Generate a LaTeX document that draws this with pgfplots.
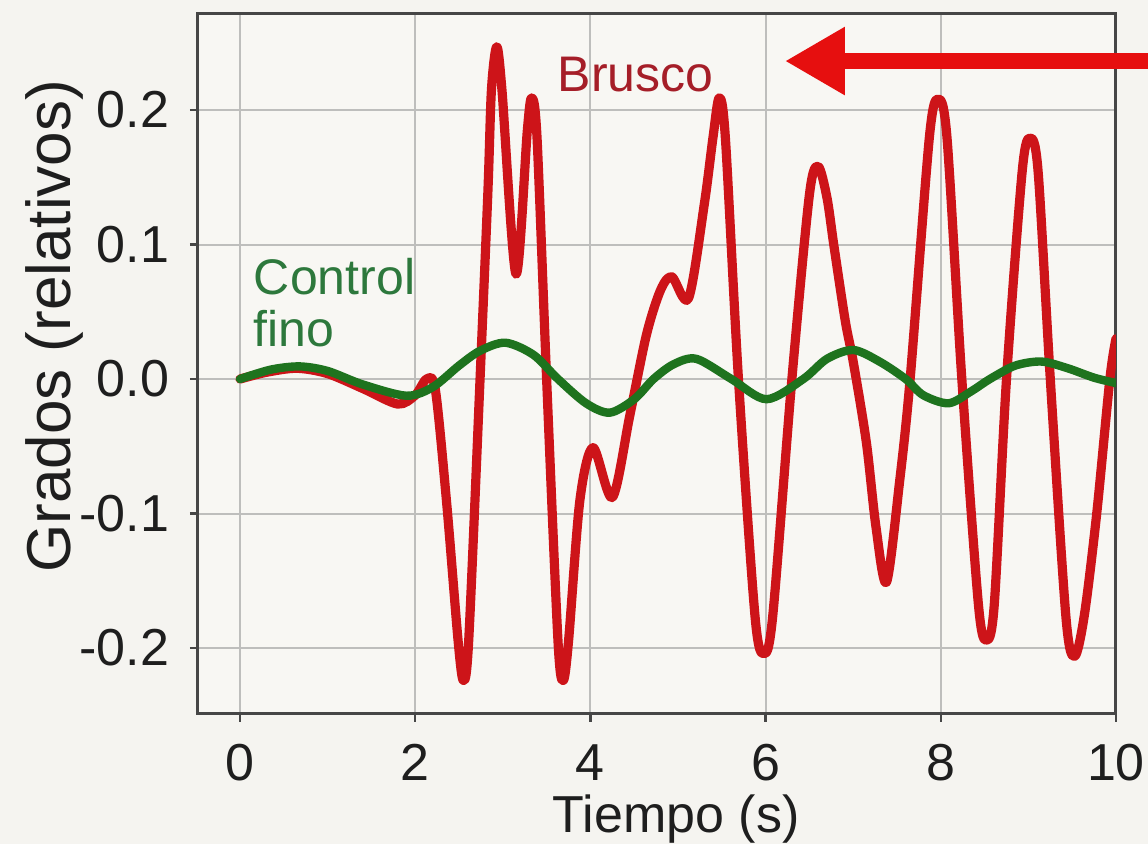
\documentclass[border=0pt]{standalone}
\usepackage{pgfplots}
\pgfplotsset{compat=1.18}
\usepackage{fontspec}
\setmainfont{Liberation Sans}
\usetikzlibrary{arrows.meta}

\definecolor{pagebg}{RGB}{245,244,240}
\definecolor{plotbg}{RGB}{248,247,243}
\definecolor{gridc}{RGB}{190,190,188}
\definecolor{framec}{RGB}{70,70,70}
\definecolor{tickc}{RGB}{30,30,30}
\definecolor{brusco}{RGB}{205,20,25}
\definecolor{fino}{RGB}{30,115,30}
\definecolor{bruscotxt}{RGB}{165,30,40}
\definecolor{finotxt}{RGB}{45,120,60}
\definecolor{arrowc}{RGB}{230,15,15}

% respuesta brusca
\pgfplotstableread{
t y
0 0
0.3 0.005
0.65 0.008
1.0 0.004
1.4 -0.007
1.8 -0.0186
2.0 -0.012
2.13 0.0
2.23 -0.008
2.36 -0.093
2.49 -0.195
2.55 -0.224
2.61 -0.195
2.74 0.0
2.83 0.14
2.87 0.215
2.93 0.247
2.99 0.215
3.15 0.078
3.28 0.185
3.33 0.209
3.39 0.18
3.50 0.0
3.63 -0.195
3.69 -0.224
3.75 -0.195
3.88 -0.09
4.03 -0.051
4.25 -0.088
4.45 -0.027
4.64 0.033
4.8 0.066
4.93 0.076
5.12 0.060
5.3 0.13
5.40 0.18
5.47 0.209
5.54 0.18
5.69 0.0
5.88 -0.177
5.98 -0.204
6.08 -0.177
6.30 0.0
6.50 0.137
6.60 0.158
6.70 0.135
6.78 0.099
6.91 0.043
7.0 0.013
7.15 -0.047
7.26 -0.11
7.38 -0.151
7.53 -0.076
7.65 0.0
7.87 0.18
7.97 0.208
8.07 0.18
8.24 0.0
8.43 -0.168
8.52 -0.194
8.61 -0.168
8.75 0.0
8.93 0.155
9.02 0.179
9.11 0.155
9.25 0.0
9.43 -0.178
9.53 -0.206
9.64 -0.175
9.78 -0.1
9.93 0.0
10.0 0.03
}\brusco

% control fino
\pgfplotstableread{
t y
0 0
0.35 0.007
0.68 0.0094
1.0 0.006
1.4 -0.004
1.9 -0.0124
2.2 -0.006
2.5 0.01
2.74 0.021
3.03 0.027
3.35 0.018
3.63 0.0
3.95 -0.018
4.22 -0.025
4.5 -0.015
4.72 0.0
4.95 0.011
5.21 0.015
5.61 0.0
6.01 -0.015
6.43 0.0
6.7 0.015
7.0 0.0216
7.3 0.013
7.6 0.0
7.8 -0.012
8.09 -0.018
8.35 -0.009
8.56 0.0
8.85 0.01
9.15 0.013
9.45 0.008
9.75 0.001
10 -0.003
}\fino

\begin{document}
\begin{tikzpicture}
\useasboundingbox (-49.5pt,-32.5pt) rectangle (237.5pt,178.5pt);
\fill[pagebg] (-49.5pt,-32.5pt) rectangle (237.5pt,178.5pt);
\clip (-49.5pt,-32.5pt) rectangle (237.5pt,178.5pt);
\begin{axis}[
  at={(0,0)}, anchor=south west,
  scale only axis, width=229.5pt, height=175pt,
  xmin=-0.48, xmax=10, ymin=-0.249, ymax=0.2714,
  axis background/.style={fill=plotbg},
  axis line style={framec, line width=0.75pt},
  grid=major, major grid style={gridc, line width=0.5pt},
  tick align=outside, tick pos=left,
  major tick length=2pt, tick style={framec, line width=0.6pt},
  xtick={0,2,4,6,8,10}, xticklabels={0,2,4,6,8,10},
  ytick={-0.2,-0.1,0,0.1,0.2}, yticklabels={-0.2,-0.1,0.0,0.1,0.2},
  ticklabel style={font=\fontsize{13}{15}\selectfont, text=tickc},
  xticklabel style={anchor=base, yshift=-14.75pt},
  yticklabel style={anchor=east, inner sep=0pt, xshift=-5pt},
  xlabel={Tiempo (s)},
  ylabel={Grados (relativos)},
  xlabel style={font=\fontsize{13}{15}\selectfont, text=tickc, at={(axis description cs:0.521,-0.169)}, anchor=base},
  ylabel style={font=\fontsize{15.5}{18}\selectfont, text=tickc, at={(axis description cs:-0.156,0.554)}, anchor=center},
]
\addplot[brusco, line width=2.3pt, line join=round, line cap=round, smooth, tension=0.5] table[x=t, y=y] {\brusco};
\addplot[fino, line width=2.1pt, line join=round, line cap=round, smooth, tension=0.5] table[x=t, y=y] {\fino};
\node[anchor=base west, text=bruscotxt, font=\fontsize{12.5}{15}\selectfont, inner sep=0pt] at (axis cs:3.62,0.214) {Brusco};
\node[anchor=base west, text=finotxt, font=\fontsize{12.5}{15}\selectfont, inner sep=0pt] at (axis cs:0.15,0.0625) {Control};
\node[anchor=base west, text=finotxt, font=\fontsize{12.5}{15}\selectfont, inner sep=0pt] at (axis cs:0.15,0.0245) {fino};
\coordinate (tip) at (axis cs:6.22,0.2364);
\coordinate (tail) at (axis cs:10.6,0.2364);
\end{axis}
\draw[arrowc, line width=4pt, -{Triangle[length=15pt, width=16pt]}] (tail) -- (tip);
\end{tikzpicture}
\end{document}
